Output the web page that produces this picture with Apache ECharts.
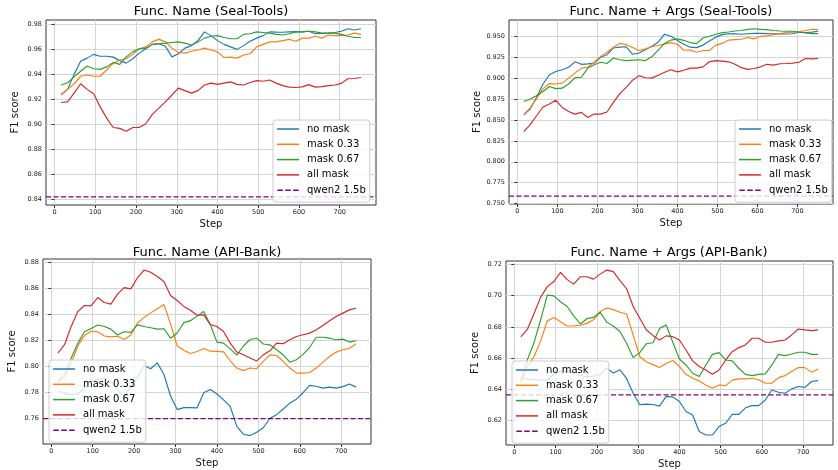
<!DOCTYPE html>
<html>
<head>
<meta charset="utf-8">
<script src="https://cdn.jsdelivr.net/npm/echarts@6/dist/echarts.min.js"></script>
<style>
  html, body { margin: 0; padding: 0; background: #fff; }
  #chart { width: 838px; height: 470px; }
</style>
</head>
<body>
<div id="chart"></div>
<script>
// steps (x values)
const stepsSeal = [16, 32, 48, 64, 80, 96, 112, 128, 144, 160, 176, 192, 208, 224, 240, 256, 272, 288, 304, 320,
  336, 352, 368, 384, 400, 416, 432, 448, 464, 480, 496, 512, 528, 544, 560, 576, 592, 608, 624, 640,
  656, 672, 688, 704, 720, 736, 752];
const stepsApi = [16, 32, 48, 64, 80, 96, 112, 128, 144, 160, 176, 192, 208, 224, 240, 256, 272, 288, 304, 320,
  336, 352, 368, 384, 400, 416, 432, 448, 464, 480, 496, 512, 528, 544, 560, 576, 592, 608, 624, 640,
  656, 672, 688, 704, 720, 736];

const seriesNames = ['no mask', 'mask 0.33', 'mask 0.67', 'all mask'];
const baselineName = 'qwen2 1.5b';

// Func. Name (Seal-Tools)
const sealNameNoMask = [0.924, 0.928, 0.940, 0.9505, 0.953, 0.956, 0.9545, 0.9545, 0.9538, 0.951, 0.949, 0.9525, 0.957, 0.9605, 0.964, 0.9645, 0.9625, 0.954, 0.9565, 0.961,
  0.963, 0.967, 0.974, 0.971, 0.967, 0.964, 0.962, 0.960, 0.963, 0.9665, 0.969, 0.971, 0.974, 0.9738, 0.9737, 0.974, 0.9742, 0.974, 0.9745, 0.9725,
  0.9728, 0.973, 0.9735, 0.9745, 0.9765, 0.9755, 0.9765];
const sealNameMask033 = [0.9235, 0.928, 0.9325, 0.9385, 0.9395, 0.9385, 0.9385, 0.9435, 0.9488, 0.9515, 0.9525, 0.956, 0.9605, 0.962, 0.966, 0.968, 0.966, 0.961, 0.9575, 0.957,
  0.9585, 0.9595, 0.961, 0.9595, 0.958, 0.9535, 0.9538, 0.953, 0.9555, 0.9565, 0.962, 0.964, 0.966, 0.966, 0.967, 0.968, 0.9665, 0.969, 0.969, 0.9705,
  0.969, 0.9715, 0.971, 0.971, 0.9715, 0.973, 0.972];
const sealNameMask067 = [0.9315, 0.9333, 0.938, 0.9425, 0.9467, 0.9445, 0.944, 0.946, 0.9495, 0.948, 0.954, 0.958, 0.9605, 0.961, 0.964, 0.9645, 0.965, 0.9655, 0.966, 0.965,
  0.9635, 0.966, 0.969, 0.9705, 0.971, 0.9695, 0.9685, 0.9685, 0.972, 0.9725, 0.974, 0.9735, 0.973, 0.972, 0.9715, 0.9725, 0.974, 0.974, 0.9745, 0.974,
  0.973, 0.973, 0.973, 0.972, 0.9705, 0.9695, 0.9695];
const sealNameAllMask = [0.9175, 0.918, 0.925, 0.9325, 0.928, 0.9245, 0.914, 0.905, 0.8975, 0.8968, 0.8945, 0.8975, 0.8975, 0.9005, 0.908, 0.913, 0.918, 0.9235, 0.929, 0.927,
  0.925, 0.927, 0.9315, 0.933, 0.932, 0.933, 0.934, 0.932, 0.9315, 0.9335, 0.935, 0.9345, 0.9355, 0.933, 0.931, 0.9298, 0.9295, 0.93, 0.9318, 0.9298,
  0.9302, 0.931, 0.9315, 0.9328, 0.9365, 0.9367, 0.9375];

// Func. Name + Args (Seal-Tools)
const sealArgsNoMask = [0.856, 0.863, 0.877, 0.893, 0.904, 0.908, 0.910, 0.913, 0.9195, 0.9165, 0.917, 0.918, 0.925, 0.928, 0.936, 0.937, 0.9375, 0.9285, 0.930, 0.934,
  0.938, 0.943, 0.9525, 0.950, 0.945, 0.9405, 0.937, 0.9365, 0.9395, 0.9445, 0.949, 0.952, 0.953, 0.953, 0.9525, 0.953, 0.9535, 0.9535, 0.9532, 0.953,
  0.953, 0.9528, 0.953, 0.955, 0.9545, 0.955, 0.956];
const sealArgsMask033 = [0.8565, 0.8645, 0.8755, 0.8875, 0.8935, 0.893, 0.894, 0.900, 0.906, 0.912, 0.913, 0.919, 0.926, 0.931, 0.937, 0.9415, 0.940, 0.9365, 0.933, 0.935,
  0.9375, 0.939, 0.941, 0.9425, 0.9405, 0.9333, 0.9335, 0.931, 0.933, 0.933, 0.9395, 0.9415, 0.9455, 0.946, 0.9465, 0.9485, 0.947, 0.950, 0.9505, 0.952,
  0.9532, 0.9545, 0.955, 0.9555, 0.957, 0.9585, 0.958];
const sealArgsMask067 = [0.872, 0.875, 0.879, 0.884, 0.890, 0.8875, 0.888, 0.893, 0.9005, 0.901, 0.912, 0.916, 0.919, 0.9175, 0.924, 0.922, 0.921, 0.9215, 0.922, 0.921,
  0.9255, 0.9335, 0.9415, 0.9455, 0.947, 0.9452, 0.9425, 0.9413, 0.948, 0.950, 0.9524, 0.9544, 0.9552, 0.9564, 0.957, 0.9583, 0.959, 0.9583, 0.958, 0.957,
  0.9564, 0.956, 0.956, 0.9552, 0.954, 0.9532, 0.9532];
const sealArgsAllMask = [0.836, 0.8445, 0.855, 0.8655, 0.869, 0.8735, 0.865, 0.860, 0.857, 0.859, 0.853, 0.857, 0.857, 0.8595, 0.871, 0.8815, 0.889, 0.8975, 0.903, 0.9005,
  0.900, 0.9035, 0.907, 0.910, 0.9075, 0.9095, 0.912, 0.912, 0.9135, 0.9195, 0.921, 0.9203, 0.9195, 0.9165, 0.9125, 0.9105, 0.9115, 0.9135, 0.9165, 0.9155,
  0.9172, 0.9175, 0.918, 0.919, 0.9235, 0.923, 0.9235];

// Func. Name (API-Bank)
const apiNameNoMask = [0.781, 0.779, 0.778, 0.7785, 0.783, 0.788, 0.790, 0.7905, 0.788, 0.7815, 0.777, 0.784, 0.791, 0.8005, 0.798, 0.8025, 0.7935, 0.777, 0.7665, 0.768,
  0.768, 0.7678, 0.7795, 0.782, 0.7785, 0.774, 0.769, 0.7536, 0.7475, 0.7465, 0.749, 0.7525, 0.7598, 0.7626, 0.767, 0.7715, 0.7745, 0.7795, 0.7852, 0.7845,
  0.783, 0.7838, 0.783, 0.7842, 0.7862, 0.7838];
const apiNameMask033 = [0.788, 0.7915, 0.802, 0.8155, 0.8235, 0.827, 0.8265, 0.8232, 0.8225, 0.823, 0.8205, 0.824, 0.833, 0.8375, 0.841, 0.8442, 0.8475, 0.8325, 0.8155, 0.8122,
  0.8097, 0.8113, 0.8135, 0.8115, 0.8113, 0.811, 0.8041, 0.7985, 0.7965, 0.7985, 0.798, 0.8036, 0.8087, 0.8082, 0.8036, 0.7985, 0.7946, 0.7946, 0.7951, 0.7985,
  0.8031, 0.8074, 0.8108, 0.8126, 0.8138, 0.8172];
const apiNameMask067 = [0.7885, 0.7935, 0.806, 0.8175, 0.8265, 0.829, 0.8317, 0.8305, 0.8285, 0.824, 0.8265, 0.826, 0.8318, 0.8305, 0.8295, 0.8285, 0.8288, 0.8215, 0.8255, 0.8335,
  0.835, 0.8385, 0.842, 0.832, 0.8185, 0.8177, 0.8133, 0.8085, 0.8155, 0.8205, 0.8215, 0.817, 0.8164, 0.8126, 0.8087, 0.803, 0.8049, 0.809, 0.8145, 0.8222,
  0.8222, 0.8215, 0.8203, 0.8208, 0.8185, 0.8195];
const apiNameAllMask = [0.81, 0.8165, 0.8305, 0.842, 0.8467, 0.8464, 0.8528, 0.849, 0.8477, 0.8554, 0.8605, 0.8595, 0.868, 0.874, 0.8723, 0.869, 0.8652, 0.8544, 0.8505, 0.846,
  0.843, 0.8392, 0.8395, 0.832, 0.8305, 0.8267, 0.8177, 0.8108, 0.8087, 0.8062, 0.804, 0.8087, 0.8118, 0.8177, 0.8172, 0.8203, 0.8228, 0.8241, 0.8254, 0.828,
  0.8313, 0.8349, 0.8382, 0.8408, 0.8433, 0.8446];

// Func. Name + Args (API-Bank)
const apiArgsNoMask = [0.6475, 0.6465, 0.6462, 0.646, 0.6462, 0.6495, 0.6515, 0.652, 0.6505, 0.649, 0.648, 0.6485, 0.6495, 0.6535, 0.6505, 0.6525, 0.647, 0.6375, 0.6302, 0.6305,
  0.6303, 0.6293, 0.6355, 0.6352, 0.6322, 0.6258, 0.6236, 0.613, 0.6108, 0.6108, 0.6162, 0.6183, 0.624, 0.624, 0.6282, 0.6296, 0.6296, 0.6332, 0.6396, 0.6381,
  0.6375, 0.6403, 0.6418, 0.6413, 0.645, 0.6456];
const apiArgsMask033 = [0.6445, 0.6545, 0.661, 0.671, 0.6838, 0.686, 0.6833, 0.6805, 0.6806, 0.681, 0.6822, 0.6845, 0.6897, 0.692, 0.691, 0.6893, 0.6882, 0.6748, 0.661, 0.6575,
  0.6558, 0.654, 0.6565, 0.6585, 0.6546, 0.6496, 0.6471, 0.6454, 0.6428, 0.6407, 0.6428, 0.6424, 0.6459, 0.6467, 0.6467, 0.6471, 0.6461, 0.6439, 0.6439, 0.6475,
  0.6488, 0.6514, 0.6539, 0.6539, 0.651, 0.653];
const apiArgsMask067 = [0.6455, 0.659, 0.670, 0.6845, 0.7003, 0.6998, 0.696, 0.693, 0.687, 0.6818, 0.6852, 0.686, 0.6893, 0.683, 0.6805, 0.677, 0.6695, 0.6603, 0.6635, 0.6692,
  0.6698, 0.679, 0.6812, 0.6701, 0.6594, 0.6556, 0.6503, 0.6482, 0.6556, 0.6624, 0.6635, 0.6588, 0.6582, 0.6535, 0.6496, 0.6488, 0.6496, 0.6499, 0.6556, 0.6624,
  0.6616, 0.6626, 0.6637, 0.6637, 0.6624, 0.6624];
const apiArgsAllMask = [0.6735, 0.6785, 0.6885, 0.699, 0.7057, 0.709, 0.7148, 0.7102, 0.7073, 0.712, 0.712, 0.7105, 0.7137, 0.7163, 0.7153, 0.7095, 0.7045, 0.693, 0.6855, 0.678,
  0.6745, 0.6715, 0.6742, 0.6737, 0.6716, 0.6652, 0.6582, 0.6546, 0.6524, 0.6496, 0.6524, 0.6588, 0.6641, 0.6667, 0.6684, 0.6727, 0.6727, 0.6701, 0.6701, 0.671,
  0.6716, 0.6748, 0.6786, 0.678, 0.6776, 0.678];

// qwen2 1.5b baselines per panel
const baselines = [0.842, 0.759, 0.7595, 0.6365];

// tick labels
const xTicks = [0, 100, 200, 300, 400, 500, 600, 700];
const yTicksSealName = [0.84, 0.86, 0.88, 0.90, 0.92, 0.94, 0.96, 0.98];
const yTicksSealArgs = [0.750, 0.775, 0.800, 0.825, 0.850, 0.875, 0.900, 0.925, 0.950];
const yTicksApiName = [0.76, 0.78, 0.80, 0.82, 0.84, 0.86, 0.88];
const yTicksApiArgs = [0.62, 0.64, 0.66, 0.68, 0.70, 0.72];

const colors = ['#1f77b4', '#ff7f0e', '#2ca02c', '#d62728'];
const baseColor = '#800080';
const font = 'DejaVu Sans';
const dashIcon = 'path://M0,0h55v15h-55z M79,0h55v15h-55z M158,0h55v15h-55z';

const panels = [
  {
    title: 'Func. Name (Seal-Tools)', steps: stepsSeal,
    lines: [sealNameNoMask, sealNameMask033, sealNameMask067, sealNameAllMask],
    yTicks: yTicksSealName, digits: 2, yMin: 0.8355, yMax: 0.9835, xMin: -21, xMax: 789,
    grid: { left: 46, top: 20, width: 330, height: 185 }, titleX: 211, titleY: 5,
    legend: { left: 273, top: 120 }
  },
  {
    title: 'Func. Name + Args (Seal-Tools)', steps: stepsSeal,
    lines: [sealArgsNoMask, sealArgsMask033, sealArgsMask067, sealArgsAllMask],
    yTicks: yTicksSealArgs, digits: 3, yMin: 0.7495, yMax: 0.9695, xMin: -21, xMax: 789,
    grid: { left: 509, top: 20, width: 324, height: 184 }, titleX: 671, titleY: 5,
    legend: { left: 735, top: 120 }
  },
  {
    title: 'Func. Name (API-Bank)', steps: stepsApi,
    lines: [apiNameNoMask, apiNameMask033, apiNameMask067, apiNameAllMask],
    yTicks: yTicksApiName, digits: 2, yMin: 0.740, yMax: 0.8825, xMin: -20, xMax: 772,
    grid: { left: 43, top: 259, width: 328, height: 185 }, titleX: 207, titleY: 246,
    legend: { left: 49, top: 360 }
  },
  {
    title: 'Func. Name + Args (API-Bank)', steps: stepsApi,
    lines: [apiArgsNoMask, apiArgsMask033, apiArgsMask067, apiArgsAllMask],
    yTicks: yTicksApiArgs, digits: 2, yMin: 0.6044, yMax: 0.7221, xMin: -20, xMax: 772,
    grid: { left: 506, top: 261, width: 327, height: 184 }, titleX: 669, titleY: 246,
    legend: { left: 512, top: 361 }
  }
];

const option = {
  animation: false,
  backgroundColor: '#fff',
  textStyle: { fontFamily: font },
  title: [],
  legend: [],
  grid: [],
  xAxis: [],
  yAxis: [],
  series: []
};

panels.forEach((p, i) => {
  option.title.push({
    text: p.title, left: p.titleX, top: p.titleY, textAlign: 'center', padding: 0,
    textStyle: { fontFamily: font, fontSize: 13, fontWeight: 'normal', color: '#000' }
  });
  option.grid.push(Object.assign({ show: true, borderColor: '#333', borderWidth: 1, backgroundColor: '#fff' }, p.grid));
  option.xAxis.push({
    type: 'value', gridIndex: i, min: p.xMin, max: p.xMax,
    name: 'Step', nameLocation: 'middle', nameGap: 14,
    nameTextStyle: { fontFamily: font, fontSize: 10, color: '#111' },
    axisLine: { show: false },
    axisTick: { show: true, length: 3, customValues: xTicks, lineStyle: { color: '#333' } },
    axisLabel: { customValues: xTicks, fontSize: 6.5, color: '#222', margin: 4, fontFamily: font },
    splitLine: { show: true, lineStyle: { color: '#d4d4d4', width: 1 } }
  });
  option.yAxis.push({
    type: 'value', gridIndex: i, min: p.yMin, max: p.yMax,
    name: 'F1 score', nameLocation: 'middle', nameGap: 26,
    nameTextStyle: { fontFamily: font, fontSize: 10, color: '#111' },
    axisLine: { show: false },
    axisTick: { show: true, length: 3, customValues: p.yTicks, lineStyle: { color: '#333' } },
    axisLabel: {
      customValues: p.yTicks, fontSize: 6.5, color: '#222', margin: 4, fontFamily: font,
      formatter: v => v.toFixed(p.digits)
    },
    splitLine: { show: true, lineStyle: { color: '#d4d4d4', width: 1 } }
  });
  p.lines.forEach((vals, k) => {
    option.series.push({
      name: seriesNames[k], type: 'line', xAxisIndex: i, yAxisIndex: i,
      data: p.steps.map((s, j) => [s, vals[j]]),
      symbol: 'none', showSymbol: false,
      color: colors[k],
      lineStyle: { color: colors[k], width: 1.15 },
      emphasis: { disabled: true }
    });
  });
  // horizontal reference line across the whole axis range (like axhline)
  option.series.push({
    name: baselineName, type: 'line', xAxisIndex: i, yAxisIndex: i,
    data: [[p.xMin, baselines[i]], [p.xMax, baselines[i]]],
    symbol: 'none', showSymbol: false, color: baseColor, z: 3,
    lineStyle: { color: baseColor, width: 1.15, type: [5, 2.5] },
    emphasis: { disabled: true }
  });
  option.legend.push({
    orient: 'vertical', left: p.legend.left, top: p.legend.top,
    data: seriesNames.map(n => ({ name: n, icon: 'rect' })).concat([{ name: baselineName, icon: dashIcon }]),
    itemWidth: 22, itemHeight: 1.5, itemGap: 3.3,
    padding: [3, 4, 6, 4],
    backgroundColor: 'rgba(255,255,255,0.8)', borderColor: '#cccccc', borderWidth: 1, borderRadius: 3,
    textStyle: { fontFamily: font, fontSize: 10, color: '#000', lineHeight: 12, padding: [0, 0, 0, 3] },
    selectedMode: false
  });
});

const myChart = echarts.init(document.getElementById('chart'), null, { renderer: 'canvas' });
myChart.setOption(option);
</script>
</body>
</html>
